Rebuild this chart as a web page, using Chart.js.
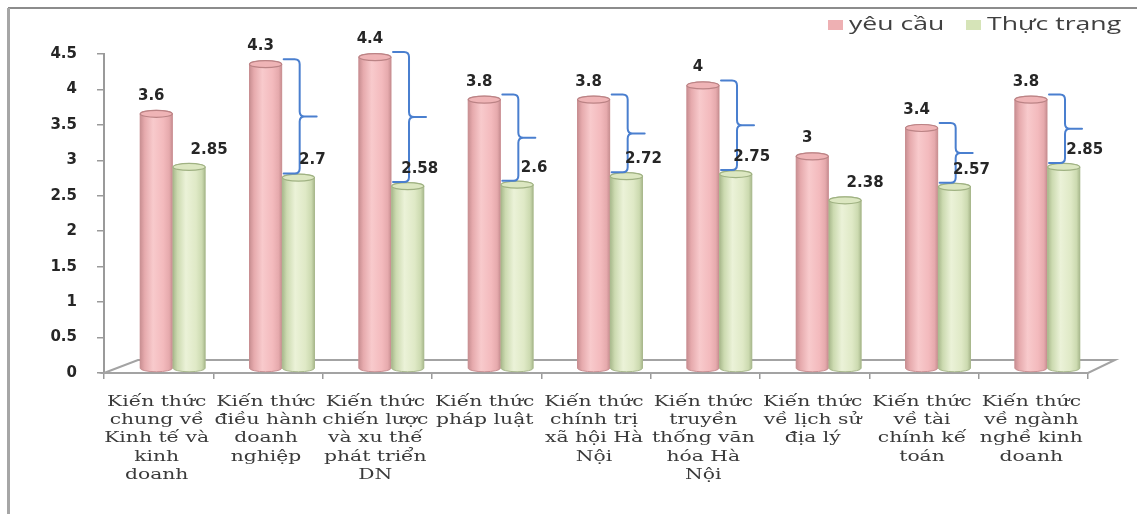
<!DOCTYPE html>
<html>
<head>
<meta charset="utf-8">
<script src="https://cdn.jsdelivr.net/npm/chart.js@4.4.1/dist/chart.umd.min.js"></script>
<style>
  html, body { margin: 0; padding: 0; background: #ffffff; }
  canvas { display: block; }
</style>
</head>
<body>
<canvas id="chart" width="1137" height="514"></canvas>
<script>
// Knowledge areas (each entry is the wrapped axis label)
const categories = [
  ['Kiến thức', 'chung về', 'Kinh tế và', 'kinh', 'doanh'],
  ['Kiến thức', 'điều hành', 'doanh', 'nghiệp'],
  ['Kiến thức', 'chiến lược', 'và xu thế', 'phát triển', 'DN'],
  ['Kiến thức', 'pháp luật'],
  ['Kiến thức', 'chính trị', 'xã hội Hà', 'Nội'],
  ['Kiến thức', 'truyền', 'thống văn', 'hóa Hà', 'Nội'],
  ['Kiến thức', 'về lịch sử', 'địa lý'],
  ['Kiến thức', 'về tài', 'chính kế', 'toán'],
  ['Kiến thức', 'về ngành', 'nghề kinh', 'doanh']
];
const seriesNames = ['yêu cầu', 'Thực trạng'];
const required = [3.6, 4.3, 4.4, 3.8, 3.8, 4, 3, 3.4, 3.8];
const actual   = [2.85, 2.7, 2.58, 2.6, 2.72, 2.75, 2.38, 2.57, 2.85];
// categories whose gap between the two bars is marked with a brace
const gapMarked = [false, true, true, true, true, true, false, true, true];
const yMin = 0, yMax = 4.5, yStep = 0.5;

// ---- styling ----
const PAL = [
  { flat: '#f3babd', edge: '#c98f92', shade: '#e6aaad', light: '#f8cacc', cap: '#efb4b6', capLine: '#bb8385', key: '#eeb0b3' },
  { flat: '#dfe9c6', edge: '#a9b98d', shade: '#ccdab0', light: '#ebf2d8', cap: '#dce7c1', capLine: '#a0b283', key: '#d6e4b8' }
];
const DEPTH = { x: 14, y: -4 };          // bars sit back inside the 3-D floor
const greenLabelNudge = [20, 14, 12, 17, 17, 16, 20, 17, 21];
const AXIS_TEXT_STRETCH = 1.45;
const LEGEND_TEXT_STRETCH = 1.4;

function cylinder(ctx, el, pal) {
  const { x, y, base, width } = el.getProps(['x', 'y', 'base', 'width'], true);
  const l = x - width / 2, r = x + width / 2, rx = width / 2, ry = 3.5;
  const g = ctx.createLinearGradient(l, 0, r, 0);
  g.addColorStop(0, pal.edge);
  g.addColorStop(0.14, pal.shade);
  g.addColorStop(0.4, pal.light);
  g.addColorStop(0.72, pal.flat);
  g.addColorStop(0.9, pal.shade);
  g.addColorStop(1, pal.edge);
  ctx.beginPath();
  ctx.moveTo(l, y);
  ctx.lineTo(l, base);
  ctx.ellipse(x, base, rx, ry, 0, Math.PI, 0, true);
  ctx.lineTo(r, y);
  ctx.ellipse(x, y, rx, ry, 0, 0, Math.PI, true);
  ctx.closePath();
  ctx.fillStyle = g;
  ctx.fill();
  ctx.lineWidth = 1;
  ctx.strokeStyle = pal.edge;
  ctx.stroke();
  ctx.beginPath();
  ctx.ellipse(x, y, rx, ry, 0, 0, Math.PI * 2);
  ctx.fillStyle = pal.cap;
  ctx.fill();
  ctx.lineWidth = 1.2;
  ctx.strokeStyle = pal.capLine;
  ctx.stroke();
}

function brace(ctx, x0, xv, top, bottom, tip) {
  const mid = (top + bottom) / 2, r = 5;
  ctx.beginPath();
  ctx.moveTo(x0, top);
  ctx.lineTo(xv - r, top);
  ctx.quadraticCurveTo(xv, top, xv, top + r);
  ctx.lineTo(xv, mid - r);
  ctx.quadraticCurveTo(xv, mid, xv + r, mid);
  ctx.lineTo(tip, mid);
  ctx.moveTo(xv + r, mid);
  ctx.quadraticCurveTo(xv, mid, xv, mid + r);
  ctx.lineTo(xv, bottom - r);
  ctx.quadraticCurveTo(xv, bottom, xv - r, bottom);
  ctx.lineTo(x0, bottom);
  ctx.stroke();
}

function stretchedText(ctx, text, x, y, align, k) {
  ctx.save();
  ctx.translate(x, y);
  ctx.scale(k, 1);
  ctx.textAlign = align;
  ctx.fillText(text, 0, 0);
  ctx.restore();
}

const decor = {
  id: 'decor',
  beforeDraw(chart) {
    const { ctx, width, height } = chart;
    ctx.save();
    ctx.fillStyle = '#ffffff';
    ctx.fillRect(0, 0, width, height);
    // outer frame (top and left edges)
    ctx.fillStyle = '#8c8c8c';
    ctx.fillRect(8, 7, width - 8, 2);
    ctx.fillStyle = '#a6a6a6';
    ctx.fillRect(7, 8, 3, height - 8);
    ctx.restore();
  },
  beforeDatasetsDraw(chart) {
    const { ctx, chartArea: a } = chart;
    ctx.save();
    ctx.beginPath();
    ctx.moveTo(a.left, a.bottom);
    ctx.lineTo(a.left + 34, a.bottom - 13);
    ctx.lineTo(a.right + 27, a.bottom - 13);
    ctx.lineTo(a.right, a.bottom);
    ctx.closePath();
    ctx.fillStyle = '#ffffff';
    ctx.fill();
    ctx.strokeStyle = '#a3a3a3';
    ctx.lineWidth = 2;
    ctx.stroke();
    ctx.restore();
    ctx.save();
    ctx.translate(DEPTH.x, DEPTH.y);
  },
  afterDatasetsDraw(chart) {
    const ctx = chart.ctx;
    const metas = [chart.getDatasetMeta(0), chart.getDatasetMeta(1)];
    metas.forEach((m, di) => m.data.forEach(el => cylinder(ctx, el, PAL[di])));

    // braces between requirement and actual level
    ctx.strokeStyle = '#4a7fcf';
    ctx.lineWidth = 2;
    ctx.lineCap = 'round';
    metas[0].data.forEach((p, i) => {
      if (!gapMarked[i]) return;
      const g = metas[1].data[i];
      const pr = p.x + p.width / 2;
      brace(ctx, pr + 2, pr + 18, p.y - 5, g.y - 4, pr + 35);
    });

    // value labels
    ctx.fillStyle = '#262626';
    ctx.font = 'bold 15px "DejaVu Sans"';
    ctx.textBaseline = 'middle';
    ctx.textAlign = 'center';
    metas[0].data.forEach((el, i) => {
      ctx.fillText(String(required[i]), el.x - 5, el.y - 18);
    });
    metas[1].data.forEach((el, i) => {
      ctx.fillText(String(actual[i]), el.x + greenLabelNudge[i], el.y - 17);
    });
    ctx.restore();
  },
  afterDraw(chart) {
    const { ctx, chartArea: a } = chart;
    const xs = chart.scales.x;
    ctx.save();
    // category labels
    ctx.fillStyle = '#3a3a3a';
    ctx.font = '14px "DejaVu Serif"';
    ctx.textBaseline = 'middle';
    chart.data.labels.forEach((lines, i) => {
      const cx = xs.getPixelForValue(i) - 2;
      lines.forEach((ln, k) => stretchedText(ctx, ln, cx, a.bottom + 29 + k * 18.3, 'center', AXIS_TEXT_STRETCH));
    });
    // legend
    ctx.font = '19px "Open Sans"';
    const keys = [{ x: 828, tx: 849 }, { x: 966, tx: 987 }];
    chart.data.datasets.forEach((ds, i) => {
      ctx.fillStyle = PAL[i].key;
      ctx.fillRect(keys[i].x, 20, 15, 10);
      ctx.fillStyle = '#404040';
      stretchedText(ctx, ds.label, keys[i].tx, 25, 'left', LEGEND_TEXT_STRETCH);
    });
    ctx.restore();
  }
};

new Chart(document.getElementById('chart'), {
  type: 'bar',
  data: {
    labels: categories,
    datasets: [
      { label: seriesNames[0], data: required, backgroundColor: PAL[0].flat, borderWidth: 0 },
      { label: seriesNames[1], data: actual, backgroundColor: PAL[1].flat, borderWidth: 0 }
    ]
  },
  options: {
    responsive: false,
    animation: false,
    devicePixelRatio: 1,
    layout: { padding: { top: 54, right: 49, left: 0, bottom: 0 } },
    datasets: { bar: { categoryPercentage: 0.6, barPercentage: 0.98 } },
    plugins: { legend: { display: false }, tooltip: { enabled: false } },
    scales: {
      x: {
        afterFit: s => { s.height = 141; },
        ticks: { display: false },
        grid: { offset: true, drawOnChartArea: false, drawTicks: true, tickLength: 6, color: '#9a9a9a', lineWidth: 1.5 },
        border: { display: true, color: '#9a9a9a', width: 2 }
      },
      y: {
        min: yMin, max: yMax,
        afterFit: s => { s.width = 104; },
        ticks: {
          stepSize: yStep, padding: 20, color: '#262626',
          font: { family: 'DejaVu Sans', size: 15, weight: 'bold' },
          callback: v => String(v)
        },
        grid: { drawOnChartArea: false, drawTicks: true, tickLength: 7, color: '#9a9a9a', lineWidth: 1.5 },
        border: { display: true, color: '#9a9a9a', width: 2 }
      }
    }
  },
  plugins: [decor]
});
</script>
</body>
</html>
